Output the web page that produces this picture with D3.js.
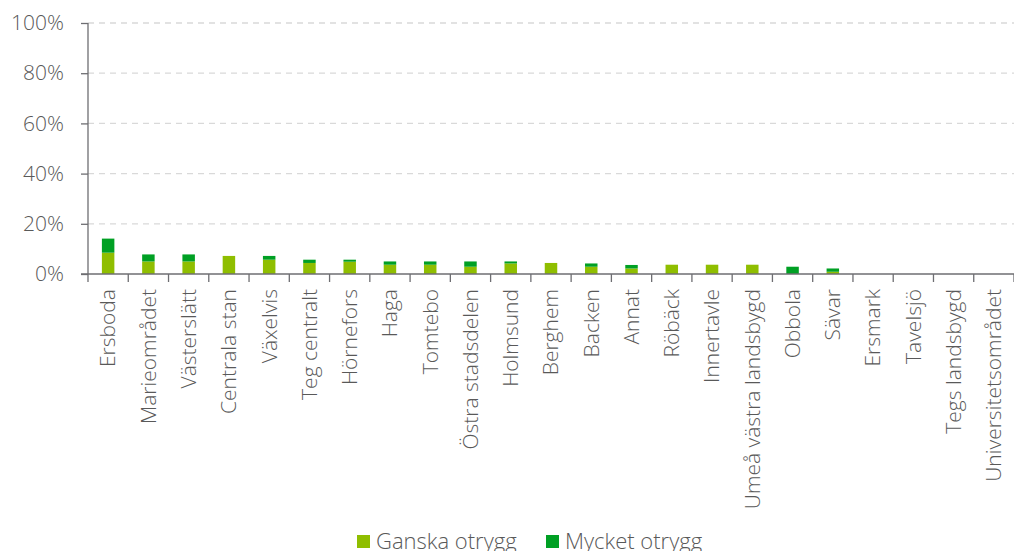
<!DOCTYPE html>
<html>
<head>
<meta charset="utf-8">
<script src="https://cdn.jsdelivr.net/npm/d3@7"></script>
<style>
  body { margin: 0; background: #fff; }
  svg text { font-family: "Open Sans", sans-serif; font-weight: 300; fill: #595959; }
</style>
</head>
<body>
<svg id="chart" width="1014" height="551"></svg>
<script>
'use strict';
// categories, in chart order
const areas = ["Ersboda", "Marieområdet", "Västerslätt", "Centrala stan", "Växelvis",
  "Teg centralt", "Hörnefors", "Haga", "Tomtebo", "Östra stadsdelen", "Holmsund",
  "Berghem", "Backen", "Annat", "Röbäck", "Innertavle", "Umeå västra landsbygd",
  "Obbola", "Sävar", "Ersmark", "Tavelsjö", "Tegs landsbygd", "Universitetsområdet"];

// percent values
const ganska = [8.5, 5.0, 5.0, 7.2, 5.7, 4.4, 4.9, 3.7, 3.7, 2.9, 4.2,
  4.4, 2.9, 2.2, 3.7, 3.7, 3.7, 0, 0.9, 0, 0, 0, 0];
const mycket = [5.6, 2.8, 2.8, 0, 1.5, 1.3, 0.8, 1.3, 1.3, 2.1, 0.8,
  0, 1.3, 1.4, 0, 0, 0, 2.9, 1.3, 0, 0, 0, 0];

const yTicks = [0, 20, 40, 60, 80, 100];
const seriesNames = ["Ganska otrygg", "Mycket otrygg"];
const colors = ["#8fbe00", "#00a024"];

const svg = d3.select("#chart");
const mLeft = 88, mRight = 1014, mTop = 23, mBottom = 274;

const x = d3.scaleBand().domain(areas).range([mLeft, mRight]);
const y = d3.scaleLinear().domain([0, 100]).range([mBottom, mTop]);

// grid lines
svg.append("g")
  .selectAll("line").data(yTicks.filter(d => d > 0)).join("line")
  .attr("x1", mLeft).attr("x2", mRight)
  .attr("y1", d => y(d)).attr("y2", d => y(d))
  .attr("stroke", "#d9d9d9").attr("stroke-width", 1.3)
  .attr("stroke-dasharray", "6,5");

// stacked bars
const rows = areas.map((a, i) => ({ area: a, g: ganska[i], m: mycket[i] }));
const stack = d3.stack().keys(["g", "m"])(rows);
const bw = x.bandwidth() * 0.31;

svg.append("g")
  .selectAll("g").data(stack).join("g")
  .attr("fill", (d, i) => colors[i])
  .selectAll("rect").data(d => d).join("rect")
  .attr("x", d => x(d.data.area) + x.bandwidth() / 2 - bw / 2)
  .attr("width", bw)
  .attr("y", d => y(d[1]))
  .attr("height", d => y(d[0]) - y(d[1]));

// y axis
const yAxis = svg.append("g")
  .attr("transform", `translate(${mLeft},0)`)
  .call(d3.axisLeft(y).tickValues(yTicks).tickFormat(d => d + "%").tickSize(7).tickPadding(17));
yAxis.select(".domain").attr("d", `M0,${mTop}V${mBottom + 8}`);

// x axis
const xAxis = svg.append("g")
  .attr("transform", `translate(0,${mBottom})`)
  .call(d3.axisBottom(x).tickSize(0));
xAxis.selectAll(".tick line").remove();
xAxis.select(".domain").attr("d", `M${mLeft - 7},0H${mRight}`);
xAxis.append("g")
  .selectAll("line").data(areas.slice(1).concat([null])).join("line")
  .attr("x1", (d, i) => mLeft + x.step() * (i + 1))
  .attr("x2", (d, i) => mLeft + x.step() * (i + 1))
  .attr("y1", 0).attr("y2", 8)
  .attr("stroke", "#6e6e72").attr("stroke-width", 1.3);

xAxis.selectAll(".tick text")
  .attr("transform", "rotate(-90)")
  .attr("text-anchor", "end")
  .attr("x", -15).attr("y", 0).attr("dy", "0.35em");

svg.selectAll(".domain, .tick line").attr("stroke", "#6e6e72").attr("stroke-width", 1.3);
svg.selectAll(".tick text").attr("font-size", 21).attr("fill", "#595959")
  .attr("font-family", "'Open Sans', sans-serif");

// legend
const legend = svg.append("g");
const legX = [357, 546];
seriesNames.forEach((n, i) => {
  legend.append("rect").attr("x", legX[i]).attr("y", 535).attr("width", 13).attr("height", 13)
    .attr("fill", colors[i]);
  legend.append("text").attr("x", legX[i] + 19).attr("y", 549)
    .attr("font-size", 22).text(n);
});
</script>
</body>
</html>
